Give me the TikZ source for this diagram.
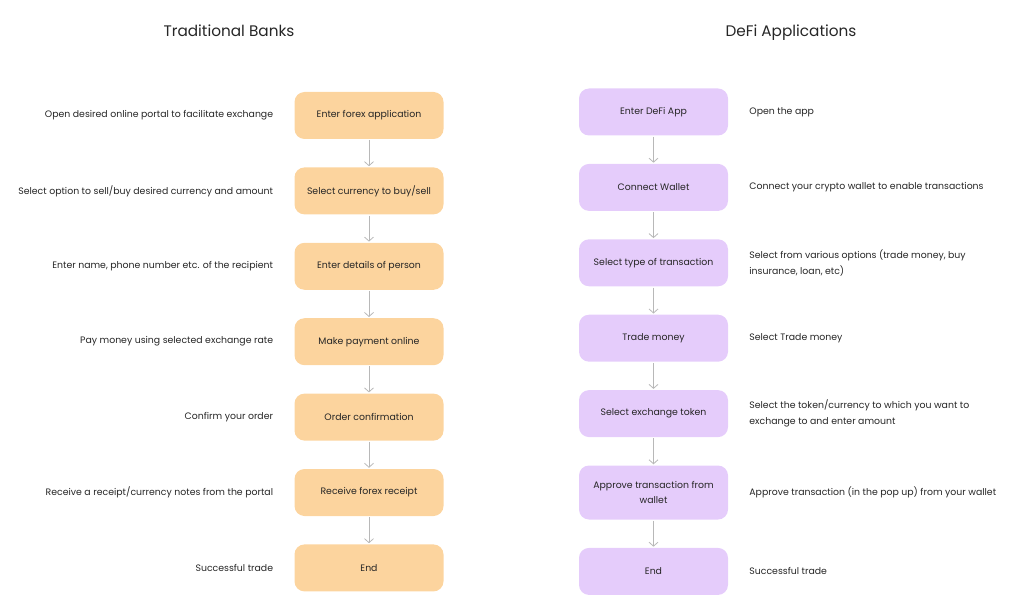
\documentclass[tikz,border=0pt]{standalone}
\usepackage{fontspec}
\setmainfont{Poppins}
\usetikzlibrary{positioning,arrows.meta}
\definecolor{bankfill}{HTML}{FCD49E}
\definecolor{defifill}{HTML}{E5CCFB}
\definecolor{arrowgray}{HTML}{B8B8B8}
\definecolor{inkgray}{HTML}{262626}
\begin{document}
\begin{tikzpicture}[x=1pt,y=-1pt,>={Straight Barb[length=4pt,width=9pt]},
  font=\fontsize{9.35}{15.5}\selectfont,text=inkgray,node distance=28pt,
  bankbox/.style={fill=bankfill,rounded corners=10pt,minimum width=149pt,minimum height=47pt,align=center},
  defibox/.style={fill=defifill,rounded corners=10pt,minimum width=149pt,minimum height=47pt,align=center},
  flow/.style={->,draw=arrowgray,line width=0.8pt,shorten <=1pt,shorten >=1pt},
  note/.style={align=left,inner sep=0pt},
  heading/.style={font=\fontsize{15.3}{18}\selectfont,anchor=base}]
  \useasboundingbox (0,0) rectangle (1024,612);
  % --- panel 1: traditional banks ---
  \begin{scope}
    \node[heading] (bankhead) at (229,36.5) {Traditional Banks};
    \node[bankbox] (b1) at (369,115.5) {Enter forex application};
    \node[bankbox,below=of b1] (b2) {Select currency to buy/sell};
    \node[bankbox,below=of b2] (b3) {Enter details of person};
    \node[bankbox,below=of b3] (b4) {Make payment online};
    \node[bankbox,below=of b4] (b5) {Order confirmation};
    \node[bankbox,below=of b5] (b6) {Receive forex receipt};
    \node[bankbox,below=of b6] (b7) {End};
    \foreach \i/\j in {1/2,2/3,3/4,4/5,5/6,6/7}
      \draw[flow] (b\i) -- (b\j);
    \node[note,left=21pt of b1] (bn1) {Open desired online portal to facilitate exchange};
    \node[note,left=21pt of b2] (bn2) {Select option to sell/buy desired currency and amount};
    \node[note,left=21pt of b3] (bn3) {Enter name, phone number etc. of the recipient};
    \node[note,left=21pt of b4] (bn4) {Pay money using selected exchange rate};
    \node[note,left=21pt of b5] (bn5) {Confirm your order};
    \node[note,left=21pt of b6] (bn6) {Receive a receipt/currency notes from the portal};
    \node[note,left=21pt of b7] (bn7) {Successful trade};
  \end{scope}
  % --- panel 2: defi applications ---
  \begin{scope}
    \node[heading] (defihead) at (791,36.5) {DeFi Applications};
    \node[defibox] (d1) at (653.5,112) {Enter DeFi App};
    \node[defibox,below=of d1] (d2) {Connect Wallet};
    \node[defibox,below=of d2] (d3) {Select type of transaction};
    \node[defibox,below=of d3] (d4) {Trade money};
    \node[defibox,below=of d4] (d5) {Select exchange token};
    \node[defibox,below=of d5,minimum height=54pt] (d6) {Approve transaction from\\wallet};
    \node[defibox,below=of d6] (d7) {End};
    \foreach \i/\j in {1/2,2/3,3/4,4/5,5/6,6/7}
      \draw[flow] (d\i) -- (d\j);
    \node[note,right=21pt of d1] (dn1) {Open the app};
    \node[note,right=21pt of d2] (dn2) {Connect your crypto wallet to enable transactions};
    \node[note,right=21pt of d3] (dn3) {Select from various options (trade money, buy\\insurance, loan, etc)};
    \node[note,right=21pt of d4] (dn4) {Select Trade money};
    \node[note,right=21pt of d5] (dn5) {Select the token/currency to which you want to\\exchange to and enter amount};
    \node[note,right=21pt of d6] (dn6) {Approve transaction (in the pop up) from your wallet};
    \node[note,right=21pt of d7] (dn7) {Successful trade};
  \end{scope}
\end{tikzpicture}
\end{document}
